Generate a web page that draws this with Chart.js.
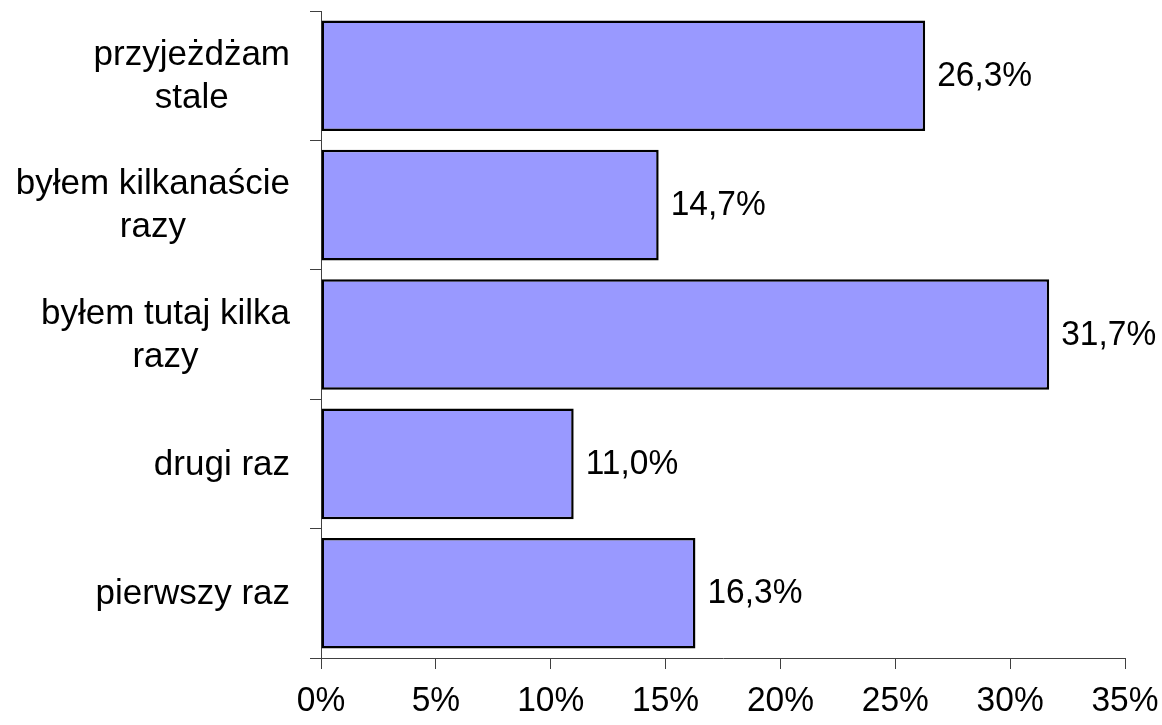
<!DOCTYPE html>
<html><head><meta charset="utf-8">
<script src="https://cdn.jsdelivr.net/npm/chart.js@4/dist/chart.umd.min.js"></script>
<style>html,body{margin:0;padding:0;background:#fff}#wrap{width:1162px;height:725px}</style>
</head><body><div id="wrap"><canvas id="c" width="1162" height="725"></canvas></div>
<script>
const categories = [["przyjeżdżam","stale"],["byłem kilkanaście","razy"],["byłem tutaj kilka","razy"],["drugi raz"],["pierwszy raz"]];
const values = [26.3, 14.7, 31.7, 11.0, 16.3];
const valueLabels = ["26,3%","14,7%","31,7%","11,0%","16,3%"];
const xTickLabels = ["0%","5%","10%","15%","20%","25%","30%","35%"];

const FONT = '"Liberation Sans", Arial, sans-serif';
const CAT_FS = 35;
const NUM_FS = 33.5;
const STRETCH = 1.07;

function stretchedText(ctx, text, x, y, align) {
  ctx.save();
  ctx.translate(x, y);
  ctx.scale(1, STRETCH);
  ctx.textAlign = align;
  ctx.textBaseline = 'alphabetic';
  ctx.fillText(text, 0, 0);
  ctx.restore();
}

const labelPlugin = {
  id: 'labels',
  afterDraw(chart) {
    const ys = chart.scales.y, xs = chart.scales.x, ctx = chart.ctx;
    ctx.save();
    ctx.fillStyle = '#000';
    // category labels
    ctx.font = CAT_FS + 'px ' + FONT;
    ctx.textAlign = 'center';
    ctx.textBaseline = 'middle';
    const right = ys.right - 31;
    const lh = 43;
    categories.forEach((lines, i) => {
      const bw = Math.max(...lines.map(l => ctx.measureText(l).width));
      const cx = right - bw / 2;
      const cy = ys.getPixelForValue(i) + 1;
      const y0 = cy - (lines.length - 1) * lh / 2;
      lines.forEach((l, k) => ctx.fillText(l, cx, y0 + k * lh));
    });
    // x tick labels
    ctx.font = NUM_FS + 'px ' + FONT;
    xs.ticks.forEach((t, i) => {
      stretchedText(ctx, xTickLabels[i], xs.getPixelForValue(t.value), xs.top + 53, 'center');
    });
    ctx.restore();
  }
};

const valueLabelPlugin = {
  id: 'valLabels',
  afterDatasetsDraw(chart) {
    const ctx = chart.ctx, meta = chart.getDatasetMeta(0);
    ctx.save();
    ctx.font = NUM_FS + 'px ' + FONT;
    ctx.fillStyle = '#000';
    meta.data.forEach((el, i) => stretchedText(ctx, valueLabels[i], el.x + 12, el.y + 10, 'left'));
    ctx.restore();
  }
};

new Chart(document.getElementById('c'), {
  type: 'bar',
  data: {
    labels: categories,
    datasets: [{
      data: values,
      backgroundColor: '#9999FF',
      borderColor: '#000000',
      borderWidth: 2.5,
      borderSkipped: false,
      barPercentage: 0.855,
      categoryPercentage: 1
    }]
  },
  options: {
    indexAxis: 'y',
    responsive: false,
    animation: false,
    devicePixelRatio: 1,
    layout: { padding: { top: 11, right: 37, bottom: 0, left: 0 } },
    plugins: { legend: { display: false }, tooltip: { enabled: false } },
    scales: {
      x: {
        type: 'linear', min: 0, max: 35,
        ticks: { stepSize: 5, display: false },
        grid: { drawOnChartArea: false, drawTicks: true, tickLength: 11, color: '#404040', lineWidth: 1 },
        border: { display: true, color: '#404040', width: 1 },
        afterFit: s => { s.height = 67; }
      },
      y: {
        type: 'category', offset: true,
        ticks: { display: false },
        grid: { offset: true, drawOnChartArea: false, drawTicks: true, tickLength: 11, color: '#404040', lineWidth: 1 },
        border: { display: true, color: '#404040', width: 1 },
        afterFit: s => { s.width = 321; }
      }
    }
  },
  plugins: [labelPlugin, valueLabelPlugin]
});
</script></body></html>
